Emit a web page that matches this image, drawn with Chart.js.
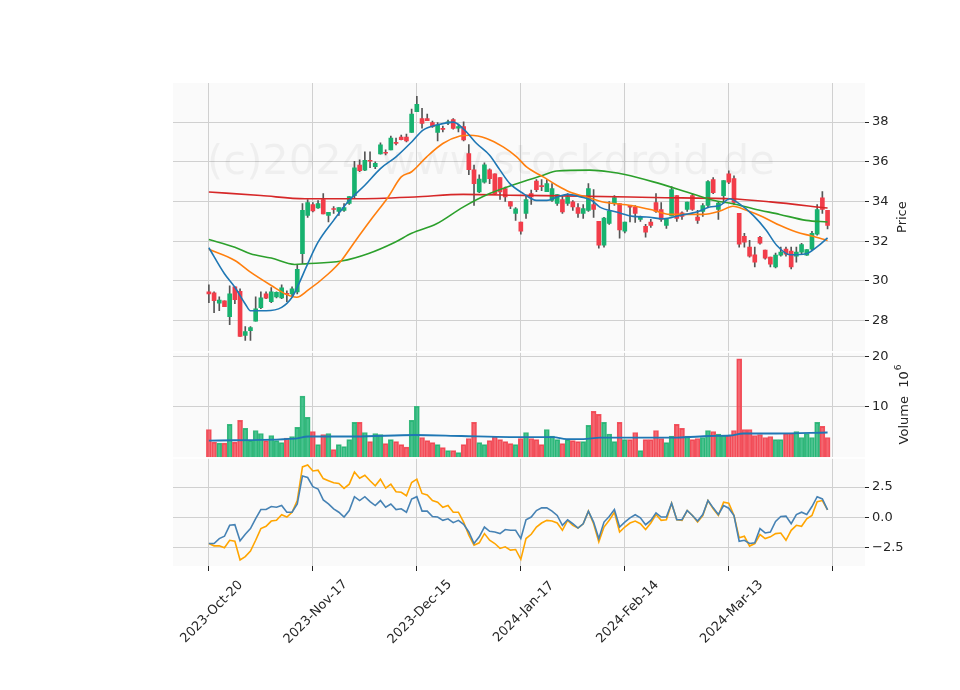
<!DOCTYPE html>
<html><head><meta charset="utf-8">
<script src="https://cdn.jsdelivr.net/npm/chart.js@4.4.1/dist/chart.umd.min.js"></script>
<style>
html,body{margin:0;padding:0;background:#fff;}
#wrap{position:relative;width:960px;height:690px;overflow:hidden;}
canvas{position:absolute;left:0;}
</style></head><body>
<div id="wrap">
<canvas id="c1" width="960" height="362" style="top:0"></canvas>
<canvas id="c2" width="960" height="126" style="top:342px"></canvas>
<canvas id="c3" width="960" height="242" style="top:448px"></canvas>
</div>
<script>
const dateLabels = ['2023-Oct-20','2023-Nov-17','2023-Dec-15','2024-Jan-17','2024-Feb-14','2024-Mar-13',''];
const dateTickIdx = [0,20,40,60,80,100,120];
const openP = [29.45,29.4,28.88,29.0,28.2,29.7,29.47,27.25,27.5,27.97,28.65,29.35,28.95,29.2,29.15,29.38,29.35,29.45,31.37,33.3,33.85,33.68,34.1,33.3,33.65,33.5,33.55,33.9,34.3,35.83,35.58,36.06,35.75,36.4,36.48,36.6,36.98,37.25,37.25,37.48,38.52,38.18,38.18,37.98,37.48,37.67,37.95,38.13,37.7,37.77,36.42,35.6,34.48,34.98,35.6,35.4,35.2,34.65,34.0,33.4,32.97,33.4,34.4,35.03,34.8,34.5,34.05,33.9,34.1,33.9,33.98,33.7,33.4,33.55,33.85,33.0,31.8,32.9,33.9,33.9,32.5,33.8,33.72,33.1,32.75,32.97,33.95,33.6,32.8,33.27,34.3,33.43,33.6,34.3,33.22,33.5,33.8,35.1,33.6,34.3,35.4,35.15,33.4,32.25,31.7,31.32,32.2,31.55,31.2,30.7,31.3,31.6,31.5,31.25,31.45,31.3,31.6,32.35,34.18,33.55];
const closeP = [29.35,29.0,29.04,28.7,29.35,29.05,27.2,27.45,27.65,28.6,29.15,29.13,29.45,29.42,29.65,29.32,29.6,30.58,33.56,33.95,33.53,33.9,33.38,33.45,33.6,33.7,33.7,34.25,35.7,35.55,36.08,36.03,35.92,36.85,36.43,37.2,36.93,37.12,37.05,38.4,38.9,37.93,38.07,37.77,37.85,37.63,38.02,37.68,37.78,37.1,35.6,34.9,35.13,35.85,35.15,34.4,34.48,34.23,33.76,33.63,32.5,34.1,34.23,34.6,34.75,34.9,34.65,34.35,33.47,34.23,33.73,33.4,33.65,34.65,33.6,31.8,33.17,33.5,34.2,32.57,32.97,33.72,33.4,33.2,32.45,32.8,33.5,33.1,33.1,34.6,33.15,33.25,33.97,33.6,33.05,33.8,35.0,34.45,33.92,35.05,34.97,33.95,31.85,31.95,31.25,30.95,31.9,31.15,30.85,31.3,31.45,31.35,30.7,31.45,31.83,31.58,32.4,33.6,33.6,32.8];
const highP = [29.8,29.45,29.2,29.0,29.75,29.7,29.6,27.7,27.7,29.2,29.45,29.45,29.67,29.45,29.8,29.5,29.7,30.78,33.9,34.1,33.95,34.05,34.4,33.45,33.75,33.7,33.9,34.25,36.03,36.1,36.5,36.5,36.0,36.95,36.6,37.3,37.2,37.35,37.4,38.65,39.3,38.7,38.4,38.05,37.98,37.8,38.1,38.18,37.9,38.02,36.87,35.83,35.35,35.95,35.65,35.4,35.2,34.73,34.0,33.7,32.97,34.28,34.57,35.1,35.1,35.1,34.9,34.35,34.3,34.4,34.05,33.9,33.85,34.9,34.6,33.0,33.2,34.0,34.3,33.9,32.97,33.8,33.8,33.27,32.85,33.1,34.4,33.95,33.15,34.75,34.3,33.48,33.97,34.4,33.55,33.9,35.05,35.2,34.0,35.05,35.55,35.3,33.4,32.4,32.05,31.7,32.25,31.55,31.2,31.4,31.7,31.7,31.7,31.7,31.9,31.58,32.5,33.85,34.5,33.55];
const lowP = [28.9,28.4,28.5,28.7,27.8,28.85,27.2,27.0,27.0,27.97,28.6,29.1,28.9,29.15,29.1,28.95,29.2,29.35,30.87,33.2,33.48,33.65,33.38,32.97,33.4,33.3,33.5,33.85,34.2,35.5,35.55,35.7,35.65,36.38,36.35,36.6,36.85,37.1,37.0,37.48,38.52,37.7,38.07,37.73,37.05,37.5,37.87,37.65,37.5,37.05,35.35,33.8,34.45,34.93,34.9,34.35,34.1,34.0,33.64,33.05,32.35,33.15,33.85,34.5,34.55,34.5,34.0,33.8,33.4,33.8,33.55,33.2,33.15,33.5,33.2,31.65,31.7,32.85,33.8,32.15,32.42,32.97,32.95,33.0,32.2,32.7,33.45,33.0,32.65,33.27,33.0,33.1,33.5,33.55,32.9,33.25,33.7,34.4,33.1,33.9,34.9,33.85,31.7,31.7,31.2,30.7,31.85,31.1,30.7,30.65,31.25,31.25,30.6,30.95,31.35,31.28,31.55,32.3,33.4,32.62];
const volume = [5.5,3.0,2.8,2.8,6.5,3.0,7.3,5.7,3.3,5.3,4.7,3.3,4.3,3.3,2.9,3.8,4.1,5.9,12.1,7.9,5.1,2.5,4.5,4.7,1.5,2.5,2.1,3.5,6.9,6.9,4.9,3.1,4.7,4.5,2.7,3.5,3.1,2.5,2.0,7.3,10.1,3.9,3.3,2.9,2.5,1.9,1.3,1.3,0.9,2.5,3.7,6.9,2.9,2.5,3.3,4.1,3.5,3.1,2.7,2.5,3.7,4.9,3.7,3.5,2.5,5.5,4.2,3.5,2.7,3.5,3.3,3.1,3.1,6.3,9.1,8.5,6.9,4.6,3.1,6.9,3.5,3.5,4.9,1.3,3.5,3.5,5.3,3.7,2.9,4.2,6.5,5.7,4.2,3.5,3.7,3.9,5.3,5.1,4.6,4.3,4.3,5.3,19.5,5.5,5.5,4.3,4.5,3.9,4.1,3.5,3.5,4.7,4.7,5.1,3.9,4.7,3.9,6.9,6.1,3.9];
const volMA = [[0,3.3],[16.5,3.7],[19.1,4.1],[28.1,4.1],[39.6,4.4],[48.6,4.2],[58,4.0],[66.2,4.0],[68.8,3.6],[72,3.6],[75.2,3.9],[90,3.9],[96.3,4.2],[100.2,4.3],[102.8,4.7],[109.2,4.7],[119,4.9]];
const maFast = [[0,31.67],[3,30.36],[5,29.68],[7,28.84],[8,28.5],[11,28.5],[14,28.67],[16,29.18],[17,29.68],[19,30.86],[21,31.95],[24,33.05],[27,34.06],[30,34.82],[33,35.66],[36,36.25],[39,37.0],[41.2,37.6],[43.8,37.85],[47,38.0],[49.2,37.6],[51.5,36.92],[54,36.33],[56,35.58],[57.9,34.9],[60.5,34.4],[63,34.06],[65,34.06],[67,34.23],[69,34.36],[71.5,34.23],[73.6,34.06],[75.2,33.72],[78.4,33.47],[81.6,33.25],[84.2,33.22],[87.4,33.13],[90.6,33.3],[93.8,33.47],[96.3,33.72],[98.3,33.8],[100.2,34.14],[102,33.89],[104.7,33.3],[107.2,32.55],[109.2,31.8],[111.8,31.32],[114.9,31.37],[116.9,31.7],[119,32.17]];
const maMid = [[0,31.59],[5,31.03],[8,30.44],[12,29.77],[15,29.31],[16.9,29.18],[19,29.52],[23,30.36],[25.5,31.03],[28,31.95],[31.3,33.13],[34.5,34.23],[37,35.24],[39,35.5],[41.9,36.25],[45,36.92],[48.3,37.3],[50.2,37.34],[53.4,37.18],[56.6,36.75],[59.2,36.25],[61.1,35.74],[64.3,35.24],[66.9,34.82],[69.4,34.48],[72.6,34.23],[75.8,33.98],[81.3,33.8],[85.5,33.56],[88.6,33.35],[91.9,33.35],[95,33.35],[98.3,33.52],[100.8,33.76],[103.4,33.56],[106.6,33.22],[109.8,32.8],[113,32.46],[116,32.26],[119,32.04]];
const maSlow = [[0,32.09],[5,31.7],[8,31.37],[12,31.15],[16.5,30.83],[18.5,30.86],[25.5,31.0],[30.6,31.37],[35.8,31.95],[39,32.4],[43.8,32.88],[48.9,33.72],[54,34.4],[59.2,34.9],[64.3,35.32],[66.9,35.54],[73.3,35.58],[77.2,35.49],[80,35.36],[85.5,34.99],[91.9,34.48],[97,34.06],[100.8,33.89],[104.7,33.64],[109.8,33.35],[114.9,33.05],[119,32.97]];
const maLong = [[0,34.48],[10,34.3],[18.5,34.14],[28,34.14],[39.6,34.23],[48.9,34.36],[60.5,34.31],[81,34.23],[85.5,34.2],[100.2,34.14],[108,33.98],[119,33.67]];
const oscA = [-2.15,-2.15,-1.74,-1.55,-0.65,-0.6,-1.93,-1.39,-0.92,-0.1,0.65,0.65,0.9,0.84,0.98,0.43,0.43,1.11,3.42,3.29,2.53,2.34,1.44,1.11,0.71,0.43,0.03,0.57,1.71,1.39,1.71,1.3,0.98,1.39,0.84,1.11,0.65,0.71,0.43,1.52,1.71,0.52,0.52,0.08,0.03,-0.24,-0.11,-0.43,-0.24,-0.57,-1.2,-2.15,-1.6,-0.79,-1.14,-1.2,-1.33,-1.0,-1.06,-1.06,-1.74,-0.19,0.03,0.57,0.79,0.79,0.52,0.16,-0.65,-0.19,-0.52,-0.87,-0.52,0.52,-0.38,-1.74,-0.38,0.08,0.65,-0.79,-0.38,-0.03,0.22,-0.03,-0.6,-0.24,0.38,0.03,0.03,1.17,-0.19,-0.19,0.57,0.16,-0.3,0.24,1.39,0.79,0.24,0.98,0.76,0.16,-1.96,-1.88,-2.15,-2.09,-0.92,-1.28,-1.2,-0.33,0.08,0.11,-0.52,0.24,0.43,0.24,0.9,1.71,1.52,0.62];
const oscB = [-2.15,-2.34,-2.34,-2.5,-1.88,-1.96,-3.5,-3.23,-2.77,-1.88,-0.92,-0.73,-0.3,-0.24,0.22,0.03,0.43,1.39,4.16,4.32,3.83,3.89,3.2,3.02,2.85,2.8,2.39,2.74,3.75,3.23,3.48,3.02,2.61,3.15,2.42,2.74,2.12,2.07,1.79,2.88,3.15,1.98,1.85,1.39,1.25,0.84,0.98,0.43,0.43,-0.38,-1.47,-2.28,-2.09,-1.33,-1.88,-2.15,-2.55,-2.42,-2.69,-2.64,-3.45,-1.74,-1.39,-0.79,-0.46,-0.24,-0.3,-0.46,-1.06,-0.24,-0.65,-0.87,-0.52,0.52,-0.52,-2.01,-0.79,-0.24,0.43,-1.2,-0.79,-0.46,-0.3,-0.52,-1.0,-0.46,0.24,-0.24,-0.19,1.17,-0.19,-0.24,0.57,0.16,-0.38,0.16,1.39,0.71,0.16,1.25,1.17,0.16,-1.68,-1.55,-2.36,-2.15,-1.41,-1.74,-1.6,-1.33,-1.28,-1.88,-1.06,-0.65,-0.73,-0.11,0.16,1.3,1.39,0.62];
const priceTicks = [28,30,32,34,36,38];
const volTicks = [10,20];
const oscTicks = [-2.5,0,2.5];

const FONT = {family:'DejaVu Sans', size:13};
const GRID = '#d0d0d0';
const XMIN = -6.9, XMAX = 126.2;
const idx = openP.map((_, i) => i);
const up = idx.map(i => closeP[i] >= openP[i]);
const RED = '#f23d4a', GREEN = '#17b26f';
const PAD = 10;

const bgPlugin = {id:'bg', beforeDraw(c){const a=c.chartArea, x=c.ctx; x.save(); x.fillStyle='#fafafa'; x.fillRect(a.left,a.top,a.right-a.left,a.bottom-a.top); x.restore();}};
const wmPlugin = {id:'wm', beforeDatasetsDraw(c){const x=c.ctx; x.save(); let fs=60; x.font=fs+'px DejaVu Sans'; const t='(c)2024 www.stockdroid.de'; const w=x.measureText(t).width; fs=fs*568/w; x.font=fs+'px DejaVu Sans'; x.fillStyle='rgba(0,0,0,0.045)'; x.textBaseline='middle'; x.textAlign='left'; x.fillText(t,207,163); x.restore();}};
const xLabelPlugin = {id:'xl', afterDraw(c){const s=c.scales.x, x=c.ctx; x.save(); x.font='13px DejaVu Sans'; x.fillStyle='#262626'; x.textAlign='center'; x.textBaseline='middle'; dateTickIdx.forEach((v,k)=>{const px=s.getPixelForValue(v); x.save(); x.translate(px+3,c.chartArea.bottom+46); x.rotate(-Math.PI/4); x.fillText(dateLabels[k],0,0); x.restore();}); x.restore();}};
function titlePlugin(text, sup, dx){return {id:'yt', afterDraw(c){const a=c.chartArea, x=c.ctx; x.save(); x.fillStyle='#262626'; x.font='13px DejaVu Sans'; x.translate(a.right+38+(dx||0),(a.top+a.bottom)/2); x.rotate(-Math.PI/2); const w=x.measureText(text).width; let sw=0; if(sup){x.font='9px DejaVu Sans'; sw=x.measureText(sup).width; x.font='13px DejaVu Sans';} x.textBaseline='middle'; x.textAlign='left'; x.fillText(text,-(w+sw)/2,0); if(sup){x.font='9px DejaVu Sans'; x.fillText(sup,-(w+sw)/2+w+1,-6);} x.restore();}};}

function xScale(showTicks){
  return {type:'linear', min:XMIN, max:XMAX, offset:false,
    afterBuildTicks(s){s.ticks = dateTickIdx.map(v=>({value:v}));},
    afterFit(s){s.height = showTicks ? 124 : 0;},
    ticks:{display:false},
    border:{display:false},
    grid:{color:GRID, offset:false, drawTicks:showTicks, tickLength:5, tickColor:'#222', lineWidth:1}};
}
function yScale(min,max,ticks,fmt){
  return {type:'linear', position:'right', min, max,
    afterBuildTicks(s){s.ticks = ticks.map(v=>({value:v}));},
    afterFit(s){s.width = 45;},
    border:{display:false},
    grid:{color:GRID, drawTicks:true, tickLength:4, tickColor:'#222'},
    ticks:{font:FONT, color:'#262626', padding:3, callback:fmt||(v=>v)}};
}
function opts(top,bottom,y){
  return {responsive:false, animation:false, events:[],
    layout:{padding:{left:173, right:50, top:top, bottom:bottom}},
    plugins:{legend:{display:false}, tooltip:{enabled:false}},
    scales:{x:xScale(bottom===0), y:y}};
}
function line(pairs,color,w){return {type:'line', data:pairs.map(p=>({x:p[0],y:p[1]})), borderColor:color, borderWidth:w||1.6, pointRadius:0, cubicInterpolationMode:'monotone', fill:false};}

new Chart(document.getElementById('c1'), {
  type:'bar',
  data:{datasets:[
    line(maFast,'#1f77b4'), line(maMid,'#ff7f0e'), line(maSlow,'#2ca02c'), line(maLong,'#d62728'),
    {data:idx.map(i=>({x:i,y:[openP[i],closeP[i]]})), backgroundColor:idx.map(i=>up[i]?GREEN:RED), barThickness:4, minBarLength:1, grouped:false},
    {data:idx.map(i=>({x:i,y:[lowP[i],highP[i]]})), backgroundColor:'#555', barThickness:1, grouped:false}
  ]},
  options:opts(83,PAD,yScale(26.46,39.97,priceTicks)),
  plugins:[bgPlugin, wmPlugin, titlePlugin('Price')]
});

new Chart(document.getElementById('c2'), {
  type:'bar',
  data:{datasets:[
    line(volMA,'#1f77b4',1.8),
    {data:idx.map(i=>({x:i,y:volume[i]})), backgroundColor:idx.map(i=>up[i]?'rgba(23,178,111,0.78)':'rgba(242,61,74,0.78)'), borderColor:idx.map(i=>up[i]?'#3cb97f':'#f25560'), borderWidth:1, barThickness:5, grouped:false}
  ]},
  options:opts(PAD,PAD,yScale(0,20.7,volTicks)),
  plugins:[bgPlugin, titlePlugin('Volume  10','6',2)]
});

new Chart(document.getElementById('c3'), {
  type:'line',
  data:{datasets:[
    {data:idx.map(i=>({x:i,y:oscA[i]})), borderColor:'#4682b4', borderWidth:1.6, pointRadius:0, tension:0},
    {data:idx.map(i=>({x:i,y:oscB[i]})), borderColor:'#ffa500', borderWidth:1.6, pointRadius:0, tension:0}
  ]},
  options:opts(PAD,0,yScale(-4.0,4.83,oscTicks,v=>v.toFixed(1).replace('-','\u2212'))),
  plugins:[bgPlugin, xLabelPlugin]
});
</script>
</body></html>
